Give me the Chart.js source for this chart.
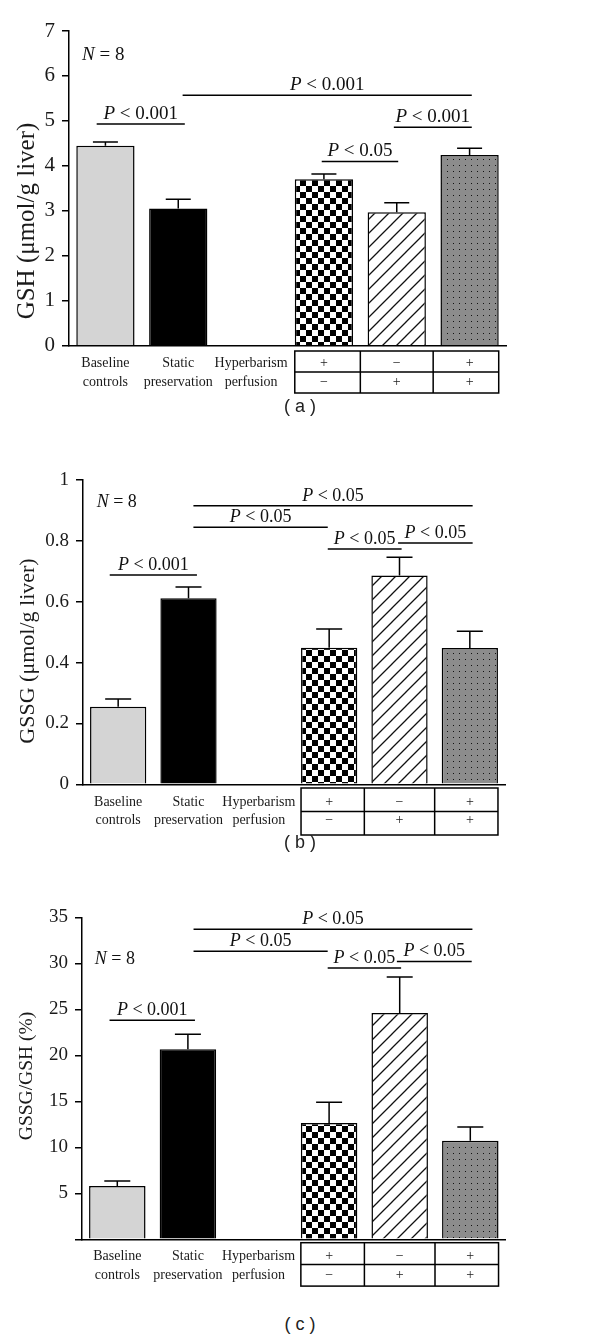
<!DOCTYPE html>
<html>
<head>
<meta charset="utf-8">
<script src="https://cdn.jsdelivr.net/npm/chart.js@4.4.0/dist/chart.umd.min.js"></script>
<style>
  body { margin: 0; background: #fff; }
  #page { position: relative; width: 600px; height: 1341px; overflow: hidden; }
  canvas { position: absolute; left: 0; }
  .caption { position: absolute; left: 0; width: 600px; text-align: center; font: 18px "Liberation Sans", Arial, sans-serif; color: #222; }
</style>
</head>
<body>
<div id="page">
  <canvas id="chartA" width="600" height="400" style="top:0"></canvas>
  <div class="caption" style="top:396px">( a )</div>
  <canvas id="chartB" width="600" height="400" style="top:440px"></canvas>
  <div class="caption" style="top:832px">( b )</div>
  <canvas id="chartC" width="600" height="420" style="top:880px"></canvas>
  <div class="caption" style="top:1314px">( c )</div>
</div>
<script>
// x categories (last three are the hyperbarism / perfusion +/- columns)
const categories = [
    ['Baseline', 'controls'],
    ['Static', 'preservation'],
    ['Hyperbarism', 'perfusion'],
    ['+', '\u2212'],
    ['\u2212', '+'],
    ['+', '+']
];

// (a) GSH
const gshMean = [4.45, 3.05, null, 3.70, 2.97, 4.24];
const gshSem = [0.08, 0.21, null, 0.12, 0.21, 0.15];
const gshTicks = [0, 1, 2, 3, 4, 5, 6, 7];
// [from category, to category, height, label]
const gshBrackets = [
    [-0.12, 1.09, 4.93, ' < 0.001'],
    [1.06, 5.03, 5.57, ' < 0.001'],
    [2.97, 4.02, 4.10, ' < 0.05'],
    [3.96, 5.03, 4.86, ' < 0.001']
];

// (b) GSSG
const gssgMean = [0.255, 0.611, null, 0.449, 0.686, 0.448];
const gssgSem = [0.025, 0.037, null, 0.061, 0.060, 0.055];
const gssgTicks = [0, 0.2, 0.4, 0.6, 0.8, 1];
const gssgBrackets = [
    [-0.12, 1.12, 0.688, ' < 0.001'],
    [1.07, 5.04, 0.915, ' < 0.05'],
    [1.07, 2.98, 0.845, ' < 0.05'],
    [2.98, 4.03, 0.773, ' < 0.05'],
    [3.98, 5.04, 0.793, ' < 0.05']
];

// (c) GSSG/GSH ratio
const ratioMean = [5.8, 20.65, null, 12.64, 24.6, 10.7];
const ratioSem = [0.54, 1.65, null, 2.26, 3.9, 1.5];
const ratioTicks = [0, 5, 10, 15, 20, 25, 30, 35];
const ratioBrackets = [
    [-0.11, 1.10, 23.8, ' < 0.001'],
    [1.08, 5.03, 33.7, ' < 0.05'],
    [1.08, 2.98, 31.3, ' < 0.05'],
    [2.98, 4.02, 29.5, ' < 0.05'],
    [3.96, 5.02, 30.2, ' < 0.05']
];

const SERIF = '"Liberation Serif", "Times New Roman", serif';

function makePattern(kind) {
    const c = document.createElement('canvas');
    const g = c.getContext('2d');
    if (kind === 'checker') {
        c.width = 12; c.height = 12;
        g.fillStyle = '#fff'; g.fillRect(0, 0, 12, 12);
        g.fillStyle = '#000';
        g.fillRect(0, 0, 6, 6);
        g.fillRect(6, 6, 6, 6);
    } else if (kind === 'hatch') {
        c.width = 14; c.height = 14;
        g.fillStyle = '#fff'; g.fillRect(0, 0, 14, 14);
        g.strokeStyle = '#111'; g.lineWidth = 1.3;
        g.beginPath();
        g.moveTo(-2, 16); g.lineTo(16, -2);
        g.moveTo(-2, 2); g.lineTo(2, -2);
        g.moveTo(12, 16); g.lineTo(16, 12);
        g.stroke();
    } else {
        c.width = 6; c.height = 6;
        g.fillStyle = '#8c8c8c'; g.fillRect(0, 0, 6, 6);
        g.fillStyle = '#111';
        g.fillRect(3, 3, 1, 1);
    }
    return g.createPattern(c, 'repeat');
}

const barFills = ['#d4d4d4', '#000', '#fff', makePattern('checker'), makePattern('hatch'), makePattern('dots')];

function drawItalicLead(ctx, lead, rest, cx, baseY, size) {
    const it = 'italic ' + size + 'px ' + SERIF;
    const up = size + 'px ' + SERIF;
    ctx.font = it;
    const w1 = ctx.measureText(lead).width;
    ctx.font = up;
    const w2 = ctx.measureText(rest).width;
    const x0 = cx - (w1 + w2) / 2;
    ctx.textAlign = 'left';
    ctx.textBaseline = 'alphabetic';
    ctx.fillStyle = '#111';
    ctx.font = it;
    ctx.fillText(lead, x0, baseY);
    ctx.font = up;
    ctx.fillText(rest, x0 + w1, baseY);
}

function makePanel(id, p) {
    const canvas = document.getElementById(id);
    const H = canvas.height;

    const extras = {
        id: 'extras',
        afterDraw(chart) {
            const { ctx, chartArea } = chart;
            const x = chart.scales.x, y = chart.scales.y;
            const bars = chart.getDatasetMeta(0).data;
            ctx.save();
            ctx.strokeStyle = '#000';
            ctx.lineWidth = 1.5;

            // error bars (upper only)
            p.means.forEach((m, i) => {
                if (m === null) return;
                const el = bars[i];
                const yTop = y.getPixelForValue(m + p.sems[i]);
                ctx.beginPath();
                ctx.moveTo(el.x, el.y);
                ctx.lineTo(el.x, yTop);
                ctx.moveTo(el.x - p.cap, yTop);
                ctx.lineTo(el.x + p.cap, yTop);
                ctx.stroke();
            });

            // significance lines
            p.brackets.forEach(([a, b, v, txt]) => {
                const py = y.getPixelForValue(v);
                const x1 = x.getPixelForValue(a), x2 = x.getPixelForValue(b);
                ctx.beginPath();
                ctx.moveTo(x1, py);
                ctx.lineTo(x2, py);
                ctx.stroke();
                drawItalicLead(ctx, 'P', txt, (x1 + x2) / 2, py - 5, p.pSize);
            });

            // N = 8
            drawItalicLead(ctx, 'N', ' = 8', x.getPixelForValue(p.nAt[0]), y.getPixelForValue(p.nAt[1]) + 7, p.pSize);

            // y axis title
            ctx.save();
            ctx.translate(p.titleX, p.titleY);
            ctx.rotate(-Math.PI / 2);
            ctx.font = p.titleSize + 'px ' + SERIF;
            ctx.fillStyle = '#1a1a1a';
            ctx.textAlign = 'center';
            ctx.textBaseline = 'middle';
            ctx.fillText(p.title, 0, 0);
            ctx.restore();

            // +/- table under the last three bars
            const b3 = bars[3], b4 = bars[4], b5 = bars[5];
            const left = b3.x - b3.width / 2, right = b5.x + b5.width / 2;
            const top = chartArea.bottom + p.tableGap;
            ctx.strokeRect(left, top, right - left, p.rowH * 2);
            ctx.beginPath();
            ctx.moveTo(left, top + p.rowH);
            ctx.lineTo(right, top + p.rowH);
            [(b3.x + b4.x) / 2, (b4.x + b5.x) / 2].forEach(cx => {
                ctx.moveTo(cx, top);
                ctx.lineTo(cx, top + p.rowH * 2);
            });
            ctx.stroke();
            ctx.restore();
        }
    };

    return new Chart(canvas, {
        type: 'bar',
        data: {
            labels: categories,
            datasets: [{
                data: p.means,
                backgroundColor: barFills,
                borderColor: '#000',
                borderWidth: 1.5,
                categoryPercentage: 0.8,
                barPercentage: 1
            }]
        },
        options: {
            responsive: false,
            animation: false,
            devicePixelRatio: 1,
            layout: { padding: { top: p.area.top, right: 600 - p.area.right, left: 0, bottom: 0 } },
            plugins: { legend: { display: false }, tooltip: { enabled: false } },
            scales: {
                x: {
                    grid: { display: false, drawTicks: false },
                    border: { color: '#000', width: 1.5 },
                    ticks: {
                        color: '#1a1a1a',
                        padding: p.labelPad,
                        maxRotation: 0,
                        autoSkip: false,
                        font: { family: SERIF, size: 14, lineHeight: p.labelLine }
                    },
                    afterFit: s => { s.height = H - p.area.bottom; }
                },
                y: {
                    min: p.ticks[0],
                    max: p.ticks[p.ticks.length - 1],
                    afterBuildTicks: ax => { ax.ticks = p.ticks.map(v => ({ value: v })); },
                    grid: { drawOnChartArea: false, tickLength: 7, color: '#000', lineWidth: 1.5 },
                    border: { color: '#000', width: 1.5 },
                    ticks: {
                        color: '#1a1a1a',
                        padding: 7,
                        font: { family: SERIF, size: p.tickSize },
                        callback: v => (p.hideZero && v === 0) ? '' : String(v)
                    },
                    afterFit: s => { s.width = p.area.left; }
                }
            }
        },
        plugins: [extras]
    });
}

makePanel('chartA', {
    means: gshMean, sems: gshSem, ticks: gshTicks, brackets: gshBrackets,
    title: 'GSH (\u03bcmol/g liver)', titleSize: 25, titleX: 27, titleY: 221, tickSize: 21, pSize: 19,
    area: { left: 69, top: 31, right: 506, bottom: 345.7 },
    nAt: [-0.03, 6.5], cap: 12.5, labelPad: 8, labelLine: '19px', tableGap: 5.3, rowH: 21
});

makePanel('chartB', {
    means: gssgMean, sems: gssgSem, ticks: gssgTicks, brackets: gssgBrackets,
    title: 'GSSG (\u03bcmol/g liver)', titleSize: 22, titleX: 28, titleY: 211, tickSize: 19, pSize: 18,
    area: { left: 83, top: 40, right: 505, bottom: 344.3 },
    nAt: [-0.02, 0.934], cap: 13, labelPad: 8.5, labelLine: '18.5px', tableGap: 3.7, rowH: 23.5
});

makePanel('chartC', {
    means: ratioMean, sems: ratioSem, ticks: ratioTicks, brackets: ratioBrackets,
    title: 'GSSG/GSH (%)', titleSize: 19.5, titleX: 27, titleY: 196, tickSize: 19, pSize: 18, hideZero: true,
    area: { left: 82, top: 37.3, right: 505.6, bottom: 359.3 },
    nAt: [-0.035, 30.7], cap: 13, labelPad: 8, labelLine: '18.5px', tableGap: 3.4, rowH: 21.7
});
</script>
</body>
</html>
